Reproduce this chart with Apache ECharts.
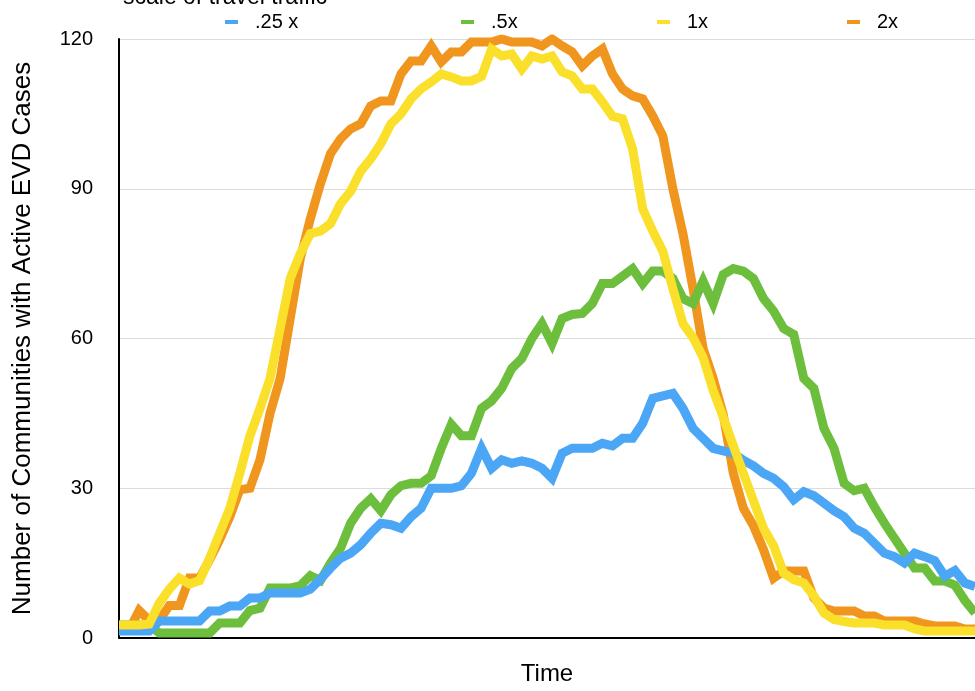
<!DOCTYPE html>
<html>
<head>
<meta charset="utf-8">
<script src="https://cdn.jsdelivr.net/npm/echarts@6/dist/echarts.min.js"></script>
<style>html,body{margin:0;padding:0;background:#fff;overflow:hidden;}#chart{width:975px;height:691px;}</style>
</head>
<body>
<div id="chart"></div>
<script>
var timeSteps = [1,2,3,4,5,6,7,8,9,10,11,12,13,14,15,16,17,18,19,20,21,22,23,24,25,26,27,28,29,30,31,32,33,34,35,36,37,38,39,40,41,42,43,44,45,46,47,48,49,50,51,52,53,54,55,56,57,58,59,60,61,62,63,64,65,66,67,68,69,70,71,72,73,74,75,76,77,78,79,80,81,82,83,84,85,86];
var seriesNames = ['.25 x', '.5x', '1x', '2x'];
var yTicks = [0, 30, 60, 90, 120];

var travel025 = [1.4,1.4,1.4,1.4,3.4,3.4,3.4,3.4,3.4,5.4,
  5.4,6.4,6.4,8,8,9,9,9,9,9.8,
  11.8,14,16,17,18.7,21,23,22.7,22,24.3,
  26,30,30,30,30.5,33,38,34,35.7,35,
  35.5,35,34,32,37,38,38,38,39,38.5,
  40,40,43,48,48.5,49,46,42,40,38,
  37.5,37,35.6,34.5,33,32,30.3,27.7,29.3,28.5,
  27,25.5,24.3,22,21,19,17,16.3,15,17,
  16.3,15.5,12.4,13.5,11,10.3];
var travel05 = [2.6,2.6,2.6,2.6,1,1,1,1,1,1,
  3,3,3,5.5,6,10,10,10,10.5,12.5,
  11.5,15,18,23,26,27.9,25.5,28.7,30.5,31,
  31,32.5,38,42.8,40.5,40.5,46,47.5,50,54,
  56,60,63,59,64,64.8,65,67,71,71,
  72.5,74,71,73.5,73.5,72,68,67,71.5,67,
  72.8,74,73.5,72,68,65.5,62,60.8,52,50,
  42,38,31,29.5,30,26.3,23,20,17,14,
  14,11.4,11.4,10.6,7.5,5];
var travel1 = [2.6,2.6,2.6,2.8,7,9.8,12,10.8,11.5,16,
  21,26,33,40.5,46,52,62,72,77,81,
  81.5,83,87,89.5,93.5,96,99,103,105,108,
  110,111.4,113,112.4,111.6,111.6,112.5,118,116.6,117,
  114,116.6,116,116.6,113.4,112.6,110,110,107.4,104.5,
  104,98,86,81.5,77.5,70,63,60.2,56.2,49.6,
  44.2,38.5,33,27.5,22,18.5,13,11.7,11,8.4,
  5,3.7,3.3,3,3,3,2.6,2.6,2.6,1.8,
  1.4,1.4,1.4,1.4,1.4,1.4];
var travel2 = [1.6,1.6,5.5,3.5,3.5,6.5,6.5,12,12,15.7,
  19.7,24.3,29.7,30,35.7,45,52,64,76,84,
  91,97,100,102,103,106.6,107.6,107.6,113,115.6,
  115.6,118.6,115.4,117.4,117.4,119.4,119.4,119.4,120,119.4,
  119.4,119.4,118.6,120,118.6,117.4,114.6,116.6,118,113,
  110,108.6,108,104.6,100.6,90,81,70,58,52,
  44.8,33,26,22.5,17.7,12,13.4,13.4,13.4,8,
  6,5.4,5.4,5.4,4.4,4.4,3.4,3.4,3.4,3.4,
  2.8,2.4,2.4,2.4,1.8,1.8];

var colors = ['#4ba7f6', '#6dbe3d', '#fadf2b', '#f0961f'];
var font = 'Liberation Sans, Arial, Helvetica, sans-serif';

var chart = echarts.init(document.getElementById('chart'), null, {renderer: 'canvas'});

function legendAt(name, left) {
  return {
    data: [name], left: left, top: 7, icon: 'rect', itemWidth: 13, itemHeight: 4,
    textStyle: {fontFamily: font, fontSize: 20, color: '#000', padding: [0, 0, 0, 12]}
  };
}

function mkSeries(i, data, z) {
  return {
    name: seriesNames[i], type: 'line', data: data, showSymbol: false, symbol: 'none',
    z: z, lineStyle: {color: colors[i], width: 9, join: 'miter'}, itemStyle: {color: colors[i]},
    animation: false
  };
}

chart.setOption({
  animation: false,
  color: colors,
  title: {text: 'scale of travel traffic', left: 118, top: -19,
    textStyle: {fontFamily: font, fontSize: 23, fontWeight: 'normal', color: '#000'}},
  legend: [legendAt(seriesNames[0], 220), legendAt(seriesNames[1], 456), legendAt(seriesNames[2], 652), legendAt(seriesNames[3], 842)],
  grid: {left: 119, right: 0, top: 39, bottom: 49, containLabel: false},
  xAxis: {
    type: 'category', data: timeSteps, boundaryGap: false,
    name: 'Time', nameLocation: 'middle', nameGap: 24,
    nameTextStyle: {fontFamily: font, fontSize: 24, color: '#000'},
    axisLine: {show: true, lineStyle: {color: '#000', width: 2}},
    axisTick: {show: false}, axisLabel: {show: false}, splitLine: {show: false}
  },
  yAxis: {
    type: 'value', min: yTicks[0], max: yTicks[yTicks.length - 1], interval: 30,
    name: 'Number of Communities with Active EVD Cases', nameLocation: 'middle', nameGap: 83,
    nameTextStyle: {fontFamily: font, fontSize: 26, color: '#000'},
    axisLine: {show: true, lineStyle: {color: '#000', width: 2}},
    axisTick: {show: false},
    axisLabel: {fontFamily: font, fontSize: 20, color: '#000', margin: 26},
    splitLine: {show: true, lineStyle: {color: '#dcdcdc', width: 1}}
  },
  series: [
    mkSeries(0, travel025, 4),
    mkSeries(1, travel05, 3),
    mkSeries(2, travel1, 5),
    mkSeries(3, travel2, 2)
  ]
});
</script>
</body>
</html>
